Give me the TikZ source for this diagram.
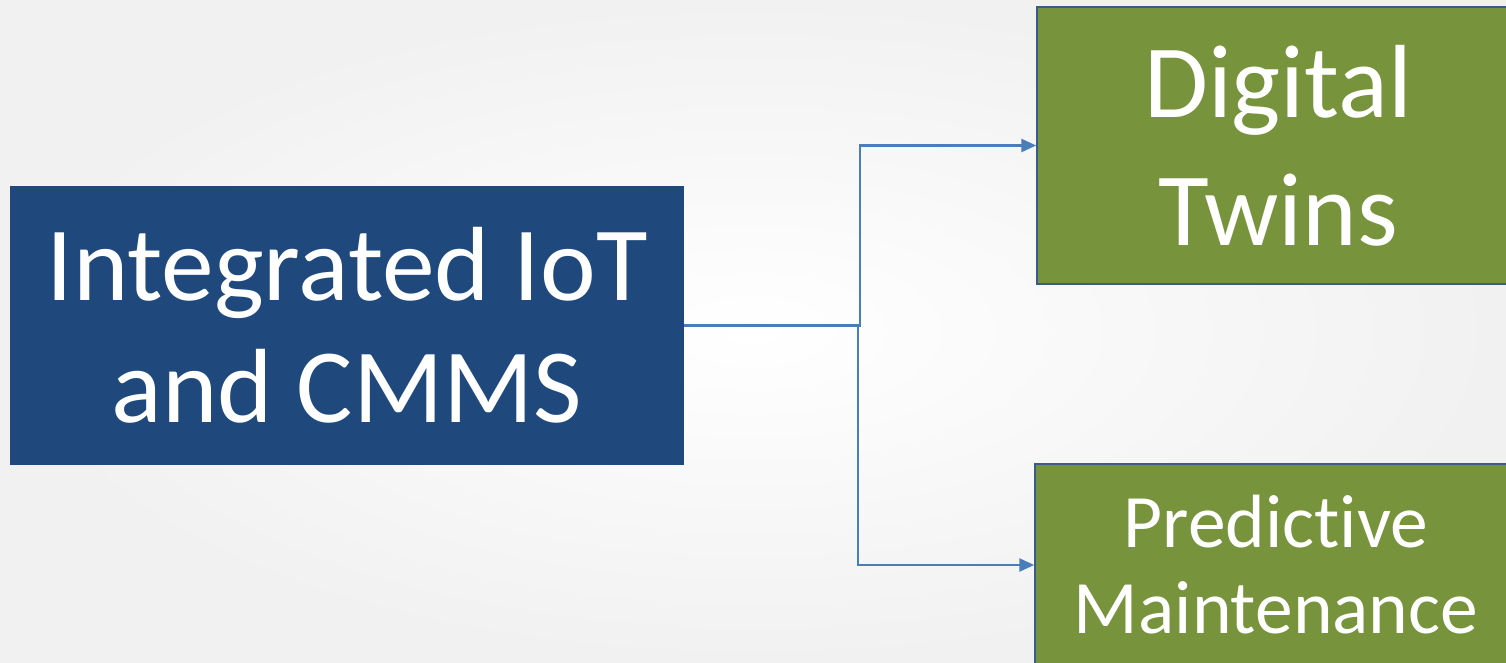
\documentclass[tikz,border=0pt]{standalone}
\usepackage{fontspec}
\setmainfont{Carlito}[Ligatures=NoCommon]
\usetikzlibrary{arrows.meta}
\definecolor{boxblue}{HTML}{1F497D}
\definecolor{boxgreen}{HTML}{77933C}
\definecolor{boxedge}{HTML}{385D8A}
\definecolor{linkblue}{HTML}{4A7EBB}
\begin{document}
\begin{tikzpicture}[x=1pt,y=-1pt,
  srcbox/.style={rectangle, fill=boxblue, draw=none, text=white, align=center, inner sep=0pt},
  dstbox/.style={rectangle, fill=boxgreen, draw=boxedge, line width=1.5pt, text=white, align=center, inner sep=0pt},
  link/.style={draw=linkblue, line width=2.6pt, -{Triangle[length=15pt,width=13pt]}}]
\useasboundingbox (0,0) rectangle (1506,663);
\clip (0,0) rectangle (1506,663);
\shade[inner color=white, outer color=gray!11] (0,0) rectangle (1506,663);
\node[srcbox, minimum width=674pt, minimum height=279pt,
      font=\fontsize{105.5}{122}\selectfont] (src) at (347,325.5)
      {Integrated IoT\\and CMMS};
\node[dstbox, minimum width=482pt, minimum height=277pt,
      font=\fontsize{104}{128}\selectfont] (dt) at (1278,145.5)
      {Digital\\Twins};
\node[dstbox, minimum width=482pt, minimum height=202pt,
      font=\fontsize{75.5}{86}\selectfont] (pm) at (1276,565)
      {Predictive\\Maintenance};
\coordinate (j1) at (860,325.5);
\coordinate (j2) at (858,325.5);
\draw[link] (src.east) -- (j1) |- (dt.west);
\draw[link] (src.east) -- (j2) |- (pm.west);
\end{tikzpicture}
\end{document}
